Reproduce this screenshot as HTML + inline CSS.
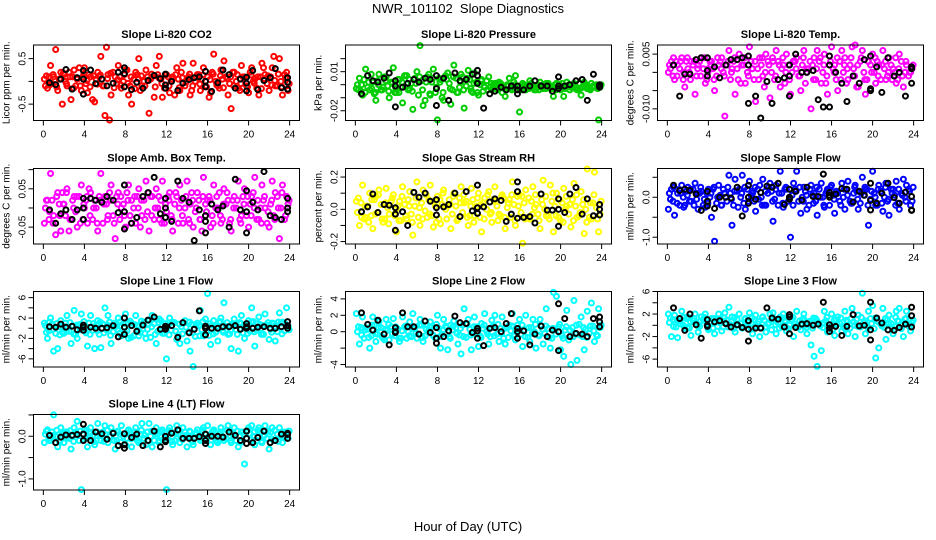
<!DOCTYPE html>
<html><head><meta charset="utf-8"><style>
html,body{margin:0;padding:0;background:#fff;}
svg{display:block;font-family:"Liberation Sans",sans-serif;}
</style></head><body>
<svg id="chart" width="936" height="540" viewBox="0 0 936 540" xmlns="http://www.w3.org/2000/svg">
<rect width="936" height="540" fill="#fff"/>
<text x="468" y="13" font-size="13" text-anchor="middle" xml:space="preserve">NWR_101102  Slope Diagnostics</text>
<text x="468" y="531" font-size="13" text-anchor="middle">Hour of Day (UTC)</text>
</svg>
<script>
const hrsA=[0.1,0.4,0.7,1.0,1.4,1.7,2.0,2.3,2.7,3.0,3.3,3.7,4.0,4.3,4.6,5.0,5.3,5.6,6.0,6.3,6.6,7.0,7.3,7.6,8.0,8.3,8.6,9.0,9.3,9.6,10.0,10.3,10.6,11.0,11.3,11.6,12.0,12.3,12.6,13.0,13.3,13.6,14.0,14.3,14.6,15.0,15.3,15.6,16.0,16.3,16.6,17.0,17.3,17.6,18.0,18.3,18.6,19.0,19.3,19.6,20.0,20.3,20.6,21.0,21.3,21.6,22.0,22.3,22.6,23.0,23.3,23.7];
const hrsB=[0.2,0.55,0.85,1.2,1.55,1.85,2.15,2.5,2.85,3.15,3.5,3.85,4.15,4.45,4.8,5.15,5.45,5.8,6.15,6.45,6.8,7.15,7.45,7.8,8.15,8.45,8.8,9.15,9.45,9.8,10.15,10.45,10.8,11.15,11.45,11.8,12.15,12.45,12.8,13.15,13.45,13.8,14.15,14.45,14.8,15.15,15.45,15.8,16.15,16.45,16.8,17.15,17.45,17.8,18.15,18.45,18.8,19.15,19.45,19.8,20.15,20.45,20.8,21.15,21.45,21.8,22.15,22.45,22.8,23.15,23.5,23.85];
const hrsC=[0.3,0.6,0.95,1.3,1.6,1.95,2.25,2.6,2.95,3.25,3.6,3.95,4.25,4.55,4.9,5.25,5.55,5.9,6.25,6.55,6.9,7.25,7.55,7.9,8.25,8.55,8.9,9.25,9.55,9.9,10.25,10.55,10.9,11.25,11.55,11.9,12.25,12.55,12.9,13.25,13.55,13.9,14.25,14.55,14.9,15.25,15.55,15.9,16.25,16.55,16.9,17.25,17.55,17.9,18.25,18.55,18.9,19.25,19.55,19.9,20.25,20.55,20.9,21.25,21.55,21.9,22.25,22.55,22.9,23.25,23.6,23.95];
const hrsK=[0.6,1.2,1.7,2.2,2.8,3.3,3.9,3.9,3.9,4.6,5.1,5.7,6.2,6.8,7.3,7.9,7.9,7.9,8.6,9.1,9.7,10.2,10.8,11.4,11.9,11.9,11.9,12.5,13.1,13.6,14.2,14.7,15.2,15.8,15.8,15.8,16.4,17.0,17.5,18.1,18.7,19.2,19.8,19.8,19.8,20.4,20.9,21.5,22.1,22.6,23.2,23.8,23.8,23.8];

const co2A=[0.05,-0.15,0.35,0.1,-0.2,0.2,0.15,-0.1,-0.4,0.25,0.05,-0.2,0.3,-0.25,0.1,-0.45,0.2,0.55,-0.75,0.15,-0.3,0.1,0.35,-0.15,0.25,-0.3,-0.5,0.2,0.5,-0.1,0.25,-0.7,0.1,0.35,0.55,-0.35,0.15,-0.25,0.1,0.3,-0.2,0.4,0.05,-0.3,0.4,0.15,-0.2,0.3,0.1,-0.25,0.6,-0.1,0.25,0.45,-0.3,-0.6,0.2,-0.15,0.35,0.1,-0.25,0.3,0.05,-0.3,0.4,0.15,-0.2,0.3,-0.1,0.5,-0.3,0.2];
const co2B=[-0.1,0.1,-0.05,0.7,0.05,-0.5,0.0,0.2,0.1,-0.1,0.3,0.1,-0.05,0.15,-0.4,0.05,0.1,-0.1,0.75,-0.85,0.2,-0.05,0.1,0.0,0.25,-0.1,0.05,0.15,-0.2,0.0,0.1,0.05,-0.35,0.15,0.05,-0.15,0.1,0.0,-0.3,0.05,0.2,-0.1,0.1,-0.2,0.0,0.15,0.05,-0.1,-0.35,0.2,0.0,-0.15,0.05,0.1,-0.05,0.2,0.0,-0.2,0.1,-0.1,0.2,0.0,-0.15,0.1,0.3,-0.05,0.1,0.55,-0.1,0.0,0.15,-0.2];
const co2C=[0.12,-0.08,0.15,-0.12,0.05,0.18,-0.05,0.1,-0.15,0.08,-0.1,0.16,0.02,-0.12,0.12,-0.06,0.14,-0.1,0.06,0.18,-0.14,0.04,-0.08,0.15,-0.04,0.1,-0.16,0.06,0.12,-0.1,0.02,0.16,-0.12,0.08,-0.05,0.14,-0.1,0.05,0.15,-0.14,0.08,-0.02,0.16,-0.1,0.1,-0.06,0.14,-0.12,0.04,0.16,-0.08,0.12,-0.14,0.06,0.1,-0.1,0.15,-0.05,0.08,-0.12,0.14,-0.04,0.1,-0.16,0.06,0.12,-0.08,0.02,0.16,-0.12,0.08,-0.05];
const co2K=[-0.03,-0.07,0.05,0.26,-0.17,0.08,0.05,-0.28,0.24,0.25,-0.05,0.05,-0.1,-0.04,0.2,0.3,-0.12,0.17,-0.18,-0.02,-0.15,0.02,0.13,0.06,0.16,-0.08,-0.15,0.0,-0.2,-0.04,0.04,0.08,0.1,0.22,0.0,-0.12,-0.22,-0.03,0.25,0.15,-0.15,0.05,0.09,-0.04,-0.21,0.24,-0.18,0.02,0.08,0.28,-0.14,0.08,-0.02,-0.17];

const presA=[-0.003,0.005,-0.008,0.012,-0.004,0.002,-0.012,0.008,-0.002,0.006,-0.01,0.013,-0.006,0.004,-0.014,0.007,-0.003,-0.019,0.01,0.03,-0.016,0.006,-0.008,0.012,-0.027,0.004,-0.012,0.009,-0.015,0.015,-0.006,0.008,-0.018,0.011,-0.005,0.009,-0.008,0.004,-0.002,0.006,-0.004,0.001,0.002,-0.006,-0.009,0.005,-0.003,0.007,-0.021,0.001,-0.004,0.003,-0.001,-0.004,0.002,-0.003,0.001,-0.003,-0.009,0.001,-0.004,-0.009,0.002,-0.002,0.001,-0.004,-0.008,0.002,-0.003,0.001,-0.002,-0.027];
const presB=[0.0,-0.005,0.004,-0.002,0.008,-0.007,0.003,-0.004,0.006,-0.001,0.002,-0.006,0.004,-0.002,0.007,-0.004,0.001,0.005,-0.008,0.003,-0.012,0.008,0.002,-0.006,0.005,-0.01,0.007,0.001,-0.004,0.005,-0.002,0.006,-0.001,0.004,-0.006,0.002,0.0,-0.005,0.003,-0.002,0.0,-0.003,0.001,-0.002,0.0,-0.003,0.002,-0.001,-0.003,0.0,-0.002,0.001,-0.004,0.0,-0.002,-0.001,0.001,-0.003,0.0,-0.002,0.001,-0.003,0.0,-0.001,-0.003,0.001,-0.002,0.0,-0.003,-0.001,0.0,-0.002];
const presC=[-0.004,0.0,-0.006,0.002,-0.003,-0.006,0.0,-0.004,0.003,-0.005,0.001,-0.003,-0.006,0.002,-0.002,0.004,-0.005,0.001,0.006,-0.004,0.002,-0.007,0.005,-0.002,0.002,-0.006,0.004,-0.003,0.006,-0.006,0.002,-0.004,0.005,-0.003,0.001,-0.006,0.003,-0.001,-0.004,0.001,-0.002,-0.004,0.0,-0.003,-0.001,-0.004,0.0,-0.002,-0.004,-0.001,-0.003,0.0,-0.002,-0.004,0.0,-0.003,-0.001,-0.002,-0.004,0.0,-0.002,-0.001,-0.004,0.0,-0.002,-0.003,0.0,-0.002,-0.004,-0.001,-0.003,0.0];
const presK=[-0.007,0.007,0.003,0.002,0.005,0.009,0.003,-0.017,-0.001,-0.002,0.001,0.004,0.002,0.005,0.004,0.007,-0.003,-0.016,0.005,-0.012,0.009,0.003,0.004,0.008,0.011,0.007,0.001,-0.018,-0.007,-0.005,-0.002,-0.004,-0.001,-0.001,-0.004,-0.007,-0.004,-0.001,0.003,-0.001,-0.001,-0.005,0.006,-0.001,-0.003,-0.001,0.0,0.003,0.004,-0.012,0.008,0.0,-0.002,-0.001];

const tempA=[0.0,0.003,-0.002,0.002,0.004,-0.004,0.001,0.003,-0.006,0.002,0.004,-0.003,0.001,0.003,-0.005,0.002,0.004,-0.012,0.006,0.001,-0.006,0.005,0.002,-0.003,0.007,0.001,-0.008,0.004,-0.001,0.005,-0.007,0.003,0.006,-0.004,0.002,0.005,-0.006,0.003,0.004,-0.005,0.006,0.001,-0.01,0.004,0.006,-0.003,0.005,-0.006,0.007,0.002,-0.005,0.006,0.004,-0.002,0.007,0.0075,-0.004,0.006,-0.006,0.003,0.005,-0.003,0.002,0.006,-0.002,0.004,0.001,-0.003,0.005,-0.004,0.002,0.0];
const tempB=[0.002,-0.001,0.003,0.001,-0.002,0.003,0.0,0.002,-0.001,0.003,0.001,-0.002,0.003,0.001,-0.001,0.003,0.0,0.002,-0.002,0.003,0.001,-0.003,0.002,0.0,0.003,-0.002,0.001,0.002,-0.004,0.003,0.0,-0.002,0.003,0.001,-0.003,0.002,0.0,0.003,-0.001,0.002,-0.003,0.001,0.002,-0.002,0.003,0.0,-0.003,0.002,0.001,-0.002,0.003,0.0,-0.003,0.002,0.001,-0.004,0.003,0.0,-0.002,0.002,0.0,0.003,-0.002,0.001,-0.001,0.002,0.0,-0.002,0.003,0.0,-0.001,0.001];
const tempC=[0.001,0.004,-0.001,0.003,0.0,0.004,-0.002,0.003,0.001,-0.001,0.004,0.0,0.002,-0.002,0.004,0.001,-0.001,0.003,0.0,0.004,-0.002,0.002,0.004,-0.001,0.001,0.003,-0.002,0.004,0.0,0.002,0.004,-0.001,0.002,0.004,0.0,-0.002,0.003,0.001,-0.001,0.004,0.0,0.003,-0.002,0.001,0.004,0.002,-0.001,0.003,0.0,0.004,-0.002,0.002,0.001,0.004,-0.001,0.002,0.004,-0.002,0.003,0.0,0.004,-0.001,0.002,0.003,0.0,-0.002,0.004,0.001,-0.001,0.003,0.0,0.002];
const tempK=[0.002,-0.0065,-0.0005,-0.0005,0.0035,0.004,0.004,-0.001,0.0005,0.0015,-0.0015,0.002,0.0035,0.0035,0.004,0.0045,0.002,-0.0085,-0.0065,-0.0125,-0.0025,-0.0085,-0.002,-0.0015,0.002,-0.001,-0.0065,0.005,0.0,0.0,0.0005,-0.0075,-0.0095,0.002,0.0045,-0.0095,0.0,-0.003,-0.008,-0.001,-0.003,0.0035,0.0045,-0.0045,-0.005,0.0015,-0.0055,0.004,-0.001,0.0,-0.0065,0.0015,-0.003,0.001];

const ambA=[-0.04,0.02,0.09,-0.02,0.04,-0.06,0.01,0.05,-0.03,0.03,-0.05,0.06,0.0,-0.04,0.04,0.02,-0.06,0.09,0.03,-0.02,0.06,-0.08,0.04,0.0,-0.05,0.06,0.02,-0.04,0.05,-0.02,0.07,-0.06,0.03,0.05,-0.03,0.07,-0.01,0.04,-0.06,0.03,0.06,-0.04,0.07,0.01,-0.05,0.04,-0.03,0.08,0.02,-0.05,0.06,0.0,-0.04,0.05,0.02,-0.06,0.03,0.07,-0.02,0.05,-0.05,0.03,0.08,-0.03,0.06,0.0,-0.05,0.07,0.04,-0.08,0.06,0.03];
const ambB=[0.0,-0.03,0.02,-0.07,0.01,0.04,-0.02,-0.06,0.02,-0.01,0.03,-0.03,0.02,0.05,-0.03,0.0,0.03,-0.04,0.01,0.04,-0.02,0.03,-0.03,0.01,0.04,-0.02,0.0,0.03,-0.05,0.02,-0.01,0.03,-0.03,0.0,0.02,-0.04,0.03,-0.02,0.01,-0.04,0.02,0.0,-0.03,0.04,-0.01,0.02,-0.06,0.01,0.03,-0.02,0.0,0.04,-0.03,0.01,-0.04,0.02,0.0,-0.03,0.03,-0.02,0.01,0.04,-0.03,0.0,0.02,-0.04,0.01,-0.02,0.03,0.0,-0.03,0.01];
const ambC=[0.02,-0.01,-0.04,0.03,-0.02,0.01,0.04,-0.03,0.0,0.03,-0.04,0.01,0.03,-0.02,0.0,-0.04,0.02,0.01,-0.03,0.02,-0.04,0.01,0.03,-0.02,0.02,-0.04,0.03,0.0,0.02,-0.03,0.04,-0.02,0.0,0.03,-0.04,0.01,0.02,-0.03,0.04,0.0,-0.02,0.03,-0.04,0.02,0.0,-0.03,0.03,-0.01,0.02,-0.04,0.03,-0.02,0.01,0.04,-0.03,0.0,0.02,-0.04,0.01,0.03,-0.02,0.0,0.02,-0.04,0.03,-0.01,0.02,-0.03,0.0,0.04,-0.02,0.02];
const ambK=[-0.005,-0.04,-0.015,-0.005,-0.03,-0.005,0.025,0.0,-0.03,0.025,0.02,0.015,0.03,0.02,-0.012,0.06,-0.01,-0.055,-0.04,-0.025,0.03,0.04,0.08,-0.015,0.025,0.0,-0.025,-0.035,0.07,0.025,0.015,-0.085,-0.005,-0.02,-0.035,-0.065,0.01,-0.005,0.005,-0.05,0.075,-0.005,0.045,-0.01,-0.065,0.015,-0.005,0.095,-0.02,-0.025,-0.03,0.025,0.0,-0.01];

const rhA=[0.05,-0.1,0.15,-0.05,0.1,-0.12,0.08,0.12,-0.08,0.13,-0.03,0.09,-0.14,0.05,0.14,-0.06,0.11,-0.16,0.17,-0.1,0.12,-0.05,0.15,-0.11,0.08,-0.09,0.12,0.02,-0.12,0.1,-0.06,0.14,0.04,-0.1,0.13,-0.04,0.1,-0.14,0.07,0.11,-0.08,0.14,-0.03,0.09,-0.12,0.06,0.17,-0.1,0.09,-0.21,0.12,-0.06,0.14,0.03,-0.12,0.18,-0.04,0.15,-0.14,0.1,-0.07,0.13,0.02,-0.11,0.16,-0.05,0.11,-0.15,0.25,-0.06,0.23,-0.14];
const rhB=[-0.02,0.04,-0.06,0.02,-0.04,0.06,-0.02,0.03,-0.06,0.01,0.05,-0.04,0.02,-0.07,0.03,0.06,-0.03,0.02,-0.05,0.04,-0.01,0.06,-0.04,0.02,-0.06,0.03,0.0,0.06,-0.03,0.02,0.07,-0.02,0.05,-0.04,0.06,0.02,-0.05,0.04,0.0,-0.03,0.06,0.02,-0.04,0.07,0.01,-0.05,0.03,0.08,-0.02,0.04,-0.05,0.05,0.01,-0.03,0.06,0.0,-0.04,0.05,0.02,-0.05,0.04,0.0,-0.03,0.06,0.02,-0.04,0.03,0.0,-0.05,0.04,0.01,-0.03];
const rhC=[0.07,-0.05,0.02,-0.08,0.06,-0.03,0.09,-0.06,0.04,-0.09,0.07,0.0,-0.07,0.08,-0.04,0.02,-0.08,0.07,0.01,-0.06,0.09,-0.03,0.05,-0.08,0.06,0.1,-0.06,0.03,0.08,-0.07,0.04,0.09,-0.05,0.02,-0.08,0.07,0.03,-0.06,0.09,-0.02,0.05,-0.07,0.08,-0.05,0.04,0.09,-0.07,0.02,0.08,-0.06,0.07,-0.03,0.09,-0.07,0.03,0.08,-0.06,0.1,-0.04,0.06,-0.08,0.08,0.03,-0.07,0.09,-0.02,0.06,-0.08,0.04,0.09,-0.06,0.05];
const rhK=[-0.015,0.015,0.095,-0.02,0.03,0.025,0.01,-0.03,-0.13,-0.015,-0.1,0.105,0.075,0.1,0.05,0.06,0.01,-0.035,0.015,0.03,0.1,-0.045,0.11,-0.01,0.15,0.01,-0.025,0.015,0.045,0.065,0.055,-0.075,-0.03,0.17,0.11,-0.055,-0.05,-0.045,-0.085,0.095,-0.005,-0.005,0.065,0.0,-0.105,-0.02,0.095,0.135,-0.03,0.065,-0.04,0.03,0.0,-0.035];

const sfA=[-0.3,0.2,-0.45,0.1,0.3,-0.2,0.25,-0.1,0.35,-0.3,0.15,-0.25,0.2,-0.5,-1.1,0.3,-0.2,0.1,0.55,-0.7,0.45,0.2,0.55,-0.3,0.4,0.1,-0.35,0.3,0.45,-0.2,0.35,-0.6,0.3,0.65,-0.25,0.2,-1.0,0.35,0.65,-0.4,0.25,-0.3,0.3,0.1,-0.45,0.35,-0.25,0.2,0.3,-0.4,0.1,0.35,-0.3,0.4,-0.15,0.3,-0.3,0.5,0.2,-0.7,0.65,-0.2,0.3,-0.35,0.35,-0.45,0.2,0.4,-0.3,0.45,0.3,-0.2];
const sfB=[0.1,-0.1,0.2,-0.2,0.0,0.15,-0.1,0.2,-0.05,0.1,-0.2,0.1,0.0,0.2,-0.15,0.05,0.2,-0.1,0.1,-0.2,0.15,0.0,-0.15,0.2,0.05,-0.1,0.2,0.0,-0.2,0.1,0.15,-0.05,-0.2,0.1,0.2,-0.1,0.05,0.2,-0.1,0.0,0.15,-0.2,0.05,-0.1,0.2,0.0,0.1,-0.2,0.05,0.15,-0.1,0.0,0.2,-0.1,0.1,0.15,-0.15,0.05,0.2,-0.05,0.1,-0.2,0.15,0.0,-0.1,0.2,0.05,-0.15,0.1,0.0,0.2,-0.1];
const sfC=[-0.05,0.25,-0.15,0.1,-0.25,0.05,0.2,-0.2,0.1,0.25,-0.05,-0.15,0.1,0.25,0.0,-0.2,0.1,0.25,-0.05,0.15,-0.25,0.1,0.25,-0.1,0.15,0.25,-0.05,-0.2,0.15,0.25,-0.1,0.2,0.1,-0.15,0.25,0.0,-0.2,0.15,0.25,-0.1,0.05,0.2,-0.15,0.25,0.0,-0.2,0.15,0.25,-0.05,0.1,-0.2,0.2,0.05,-0.15,0.25,-0.05,0.1,0.25,-0.2,0.15,0.0,0.2,-0.15,0.25,-0.05,0.1,-0.2,0.2,0.05,-0.1,0.15,0.25];
const sfK=[0.3,0.17,0.2,0.17,0.08,-0.33,0.15,-0.1,-0.22,-0.28,0.0,0.0,-0.02,0.25,-0.47,0.3,0.0,-0.15,-0.05,0.12,0.28,0.25,0.35,-0.18,0.2,0.0,-0.05,0.15,-0.07,0.25,0.02,0.02,0.58,0.12,0.05,0.0,0.08,0.22,0.2,-0.12,0.15,0.05,0.35,-0.08,-0.32,-0.15,0.1,0.35,-0.01,-0.15,0.13,0.02,-0.32,-0.33];

const l1A=[1,-2,2,-4.5,-4,1.5,-1,2.5,-3,3.5,-2,2.8,-0.5,-3.5,2.5,-4,1.5,-3.8,4,2.5,-3,0.5,2,-1.5,2.8,-2,1,2.5,-1.5,0.8,-2,1.5,2.5,-3,1.8,-1,-6,2,1.2,-2.2,-3,1,-2.5,-4.5,-7.5,1,3.5,-1.5,6.8,-3.2,1.5,-2.5,2,5,-1.2,-4,1.8,-4.5,2.5,-2,1.5,4,-3.5,2.2,-1,2.8,-2.2,1,-2.5,3,1.2,4];
const l1B=[0.5,-0.5,0.8,-1,0.3,-0.8,1,-0.6,0.5,-1.2,0.7,0,-0.9,1,-0.4,0.6,-1.2,0.8,-0.3,1.2,-0.7,0.4,-1,0.9,-0.5,1.4,-1.5,0.5,-0.8,1.2,-0.2,-1.8,0.9,-0.6,1.5,-1,0.6,-0.4,1.1,-1.3,0.3,1.5,-0.7,0.8,-1.6,0.5,-0.3,1.8,-1.4,0.6,-0.8,1.2,-0.5,0.4,-1.1,0.9,-0.3,1.1,-0.9,0.5,-0.6,1.3,-0.4,0.7,-1.2,0.6,-0.2,0.9,-0.7,1,-0.5,0.4];
const l1C=[-0.8,1.2,-0.2,0.9,-1.3,0.4,-0.6,1.1,-1.1,0.6,-0.3,1.3,0.2,-1.2,0.9,-0.5,1.2,-0.9,0.6,-1.4,1.0,-0.2,1.3,-0.7,1.1,-1.8,0.7,-0.4,1.4,-1.0,0.8,0.3,-1.2,1.1,-0.4,0.9,-1.3,1.2,-0.6,0.8,-1.1,0.2,1.2,-0.9,0.6,-1.5,1.3,-0.6,0.9,-1.1,0.4,1.3,-0.8,1.1,-0.4,0.7,-1.2,0.9,0.2,-1.0,1.2,-0.7,0.9,-1.2,0.5,1.1,-0.8,0.4,1.2,-1.1,0.8,-0.3];
const l1K=[0.3,0.2,0.8,0.2,0.4,-0.3,0.6,0.2,-0.4,0.2,0.0,0.0,0.1,0.5,-1.7,2.0,0.2,-1.2,0.5,-0.6,0.6,1.6,2.2,-0.2,0.4,0.0,-0.2,0.5,-1.8,1.1,-0.9,-0.2,3.4,0.4,0.0,-1.3,0.0,0.0,0.3,0.3,0.5,-0.2,0.9,0.3,0.0,0.0,0.2,0.3,0.0,0.0,0.3,1.3,0.5,0.0];

const l2A=[2.2,-1.5,1.8,0.5,-2,1.8,-1.2,1.2,-0.8,1.5,-1,1.6,0.5,-1.2,1.8,-0.8,1.2,2.2,-0.8,1.5,-1.2,0.8,1.2,-0.5,2,-2,1.5,-2.2,0.8,1.3,-1.5,-2.7,2.8,1.5,-2.2,1.8,-1.8,1,2.2,-1.5,1.4,2,-1.2,1.8,-1.5,0.8,2.2,-1,1.5,-1.8,2,-1.2,1.5,-2,1.5,-1.5,2.8,-2,4.8,4.3,-2.2,-3,2.6,-4,3.8,-3.5,1.8,-2.2,2.5,3.5,-1.2,2.8];
const l2B=[0,0.5,-0.8,0.3,-0.5,0.8,-0.3,0.5,-1,0.2,0.6,-0.5,0.3,-0.8,0.6,0,-0.6,0.5,-0.3,0.8,-0.5,0.2,0.6,-0.8,0.4,-0.3,0.7,-0.6,0.2,0.5,-0.4,0.8,-0.7,0.3,-0.2,0.6,-0.5,0.4,0,-0.6,0.7,-0.3,0.4,-0.8,0.5,0.1,-0.5,0.8,-0.3,0.2,-0.7,0.5,0,-0.4,0.7,-0.2,0.4,-0.8,0.3,0.6,-0.5,0.2,-1,0.5,-0.3,0.9,-0.6,0.3,-0.2,0.7,-0.4,0.5];
const l2C=[0.6,-0.4,0.2,-0.7,0.8,-0.2,0.5,-0.6,0.3,0.9,-0.3,0.6,-0.8,0.1,0.7,-0.5,0.4,-0.2,0.8,-0.7,0.3,0.6,-0.4,0.9,-0.6,0.2,0.5,-0.8,0.7,-0.2,0.4,-0.6,0.9,-0.4,0.6,0.0,-0.7,0.8,-0.3,0.5,-0.5,0.9,-0.2,0.4,-0.7,0.7,-0.4,0.3,0.8,-0.6,0.5,-0.2,0.9,-0.5,0.3,0.7,-0.7,0.4,-0.3,0.9,-0.8,0.6,0.2,-0.6,0.8,-0.4,0.5,-0.7,0.7,0.1,-0.5,0.8];
const l2K=[2.3,0.9,0.2,1.4,-0.3,-1.6,0.5,0.0,-0.1,2.3,0.6,0.6,-0.3,1.3,-0.1,0.5,-0.8,-1.4,-0.6,0.1,1.9,1.1,1.0,-0.1,0.4,0.1,-0.8,-1.7,0.4,0.5,0.0,1.0,2.2,0.4,0.0,-0.8,0.1,-1.6,-0.3,0.7,-0.6,0.2,3.4,0.0,-2.3,1.6,-0.6,-0.2,-0.3,-0.6,1.6,1.8,1.2,0.6];

const l3A=[2,-2,1.8,-2.2,2.5,-0.5,1.5,-1.8,2,-1.2,1.5,2,-0.8,1.2,-1.5,2,-1,2.2,3.2,1.5,-1.2,2,-0.5,1.2,2.2,-1.5,1.8,-2,1.5,-1.2,2,2.2,-1.5,1.5,2,-1,1.5,-2,2.5,-0.8,2,-1.5,-3.5,-5.5,-7.3,-4.5,2.5,-1.2,2,-1.8,1.5,-1,2.5,-1.5,3,-2,1.8,5.7,-1.5,2.5,3.5,-5.8,-4,3,-2.5,1.8,-1.5,2.5,3,-2,2.5,-1];
const l3B=[0.5,1,-0.3,0.8,0,1.2,-0.5,0.8,0.3,-0.2,1,0.2,0.6,-0.5,1,0.4,-0.3,0.9,0.1,-0.6,1.1,0.3,-0.2,0.8,-0.5,1,0.3,-0.4,0.9,0.2,-0.8,1.1,0.4,-0.2,0.8,-0.6,1,0.2,-0.3,0.9,0,0.7,-0.5,1.2,0.3,-0.4,0.8,0.1,-0.7,1,0.3,-0.2,0.9,-0.5,0.6,1.1,-0.3,0.5,0,1.2,-0.6,0.8,0.2,-0.4,1,0.3,-0.2,0.8,-0.6,1.1,0.2,0.5];
const l3C=[1.3,-0.2,0.9,0.3,1.4,-0.4,0.6,1.2,-0.1,0.8,1.4,-0.5,0.3,1.2,-0.2,0.9,1.3,-0.3,0.6,1.4,0.0,-0.4,1.1,0.5,1.3,-0.1,0.7,1.4,-0.3,0.4,1.2,0.1,-0.5,1.3,0.6,0.0,1.4,-0.2,0.8,1.2,-0.4,0.3,1.3,0.9,-0.1,0.5,1.4,-0.3,0.9,0.2,1.3,-0.5,0.6,1.2,0.0,-0.2,1.4,0.8,-0.4,0.3,1.3,0.6,-0.1,1.2,0.4,-0.4,1.4,0.7,0.0,1.2,-0.3,0.9];
const l3K=[3.1,1.2,-0.9,2,0.1,-2.3,1.0,0.0,-0.2,0.6,0.8,0.3,-0.3,0.1,-0.4,0.8,-0.7,-2.8,-0.5,-0.5,3.1,1.3,1.1,-0.3,1.9,1.5,-1.5,-0.4,0.2,0.3,0.0,0.2,4.1,0.1,-0.5,-1.1,-0.2,-1.8,-0.2,1.9,-0.1,0.0,4.1,-0.8,-2.6,1.3,0.4,-0.8,-0.9,-0.4,0.2,3.2,1.7,-0.3];

const l4A=[-0.15,0.15,-0.1,0.5,-0.25,0.2,-0.15,0.1,-0.3,0.2,0.35,-1.25,0.15,-0.25,0.2,-0.2,0.3,-0.1,0.25,-0.15,0.2,-0.3,0.1,0.25,-0.2,0.15,-0.25,0.2,-0.15,0.3,-0.2,0.3,-0.25,0.2,-0.1,0.15,-1.25,0.2,-0.2,0.25,-0.15,0.2,-0.25,0.1,-0.2,0.15,-0.1,0.2,0.25,-0.2,0.15,-0.15,0.2,-0.1,0.25,-0.15,0.2,-0.25,0.1,-0.65,0.2,0.25,-0.2,0.2,-0.15,0.25,-0.3,0.2,-0.1,0.2,-0.15,0.1];
const l4B=[0.05,-0.05,0.1,0.0,-0.1,0.05,0.1,-0.05,0.0,0.1,-0.1,0.05,-0.05,0.1,0.0,-0.1,0.05,0.1,-0.05,0.0,0.1,-0.1,0.05,0.0,-0.05,0.1,0.0,-0.1,0.05,-0.05,0.1,0.0,-0.1,0.05,0.1,-0.05,0.0,0.1,-0.1,0.05,-0.05,0.1,0.0,-0.1,0.05,0.0,0.1,-0.05,0.0,0.1,-0.1,0.05,0.0,-0.05,0.1,0.05,-0.1,0.0,0.1,-0.05,0.05,0.0,-0.1,0.1,0.0,-0.05,0.1,-0.1,0.05,0.0,0.1,-0.05];
const l4C=[0.12,-0.1,0.02,0.14,-0.13,0.08,-0.04,0.13,-0.12,0.06,0.12,-0.08,0.14,-0.02,-0.13,0.1,0.03,-0.12,0.14,0.0,-0.1,0.12,-0.14,0.06,0.13,-0.06,0.1,-0.13,0.14,0.02,-0.11,0.12,0.05,-0.14,0.1,-0.03,0.13,-0.12,0.06,0.14,-0.08,0.02,0.12,-0.13,0.09,-0.05,0.14,-0.1,0.03,0.13,-0.12,0.1,-0.04,0.14,-0.1,0.06,0.12,-0.14,0.04,0.13,-0.08,0.1,0.14,-0.12,0.02,0.12,-0.06,0.14,-0.12,0.08,-0.02,0.12];
const l4K=[0.02,-0.15,-0.02,0.03,0.02,0.04,0.28,0.05,-0.1,-0.1,0.1,0.06,-0.07,0.07,-0.22,0.06,-0.2,-0.28,-0.03,0.05,-0.22,-0.1,0.12,-0.25,0.0,-0.1,-0.13,0.07,0.15,-0.05,-0.05,-0.05,-0.01,0.05,-0.1,-0.17,0.0,0.0,-0.02,0.1,0.02,-0.1,0.12,-0.05,-0.17,-0.15,-0.03,0.12,-0.15,-0.1,0.05,0.07,0.04,-0.05];

const xTicks=[0,4,8,12,16,20,24];

const panels=[
 {name:"co2",title:"Slope Li-820 CO2",ylab:"Licor ppm per min.",col:"#ff0000",r:0,c:0,ylim:[-0.86,0.8],yt:[0.5,0,-0.5],yl:["0.5","","-0.5"],a:co2A,b:co2B,cc:co2C,k:co2K},
 {name:"pressure",title:"Slope Li-820 Pressure",ylab:"kPa per min.",col:"#00cd00",r:0,c:1,ylim:[-0.0275,0.0305],yt:[0.02,0.01,0,-0.01,-0.02],yl:["","0.01","","","-0.02"],a:presA,b:presB,cc:presC,k:presK},
 {name:"li820-temp",title:"Slope Li-820 Temp.",ylab:"degrees C per min.",col:"#ff00ff",r:0,c:2,ylim:[-0.0132,0.0075],yt:[0.005,0,-0.005,-0.01],yl:["0.005","","","-0.010"],a:tempA,b:tempB,cc:tempC,k:tempK},
 {name:"amb-box-temp",title:"Slope Amb. Box Temp.",ylab:"degrees C per min.",col:"#ff00ff",r:1,c:0,ylim:[-0.094,0.103],yt:[0.1,0.05,0,-0.05],yl:["","0.05","","-0.05"],a:ambA,b:ambB,cc:ambC,k:ambK},
 {name:"gas-stream-rh",title:"Slope Gas Stream RH",ylab:"percent per min.",col:"#ffff00",r:1,c:1,ylim:[-0.215,0.253],yt:[0.2,0.1,0,-0.1,-0.2],yl:["0.2","","0.0","","-0.2"],a:rhA,b:rhB,cc:rhC,k:rhK},
 {name:"sample-flow",title:"Slope Sample Flow",ylab:"ml/min per min.",col:"#0000ff",r:1,c:2,ylim:[-1.17,0.72],yt:[0.5,0,-0.5,-1],yl:["","0.0","","-1.0"],a:sfA,b:sfB,cc:sfC,k:sfK},
 {name:"line1-flow",title:"Slope Line 1 Flow",ylab:"ml/min per min.",col:"#00ffff",r:2,c:0,ylim:[-7.6,7.2],yt:[6,4,2,0,-2,-4,-6],yl:["6","","2","","-2","","-6"],a:l1A,b:l1B,cc:l1C,k:l1K},
 {name:"line2-flow",title:"Slope Line 2 Flow",ylab:"ml/min per min.",col:"#00ffff",r:2,c:1,ylim:[-4.3,4.9],yt:[4,2,0,-2,-4],yl:["4","2","0","","-4"],a:l2A,b:l2B,cc:l2C,k:l2K},
 {name:"line3-flow",title:"Slope Line 3 Flow",ylab:"ml/min per min.",col:"#00ffff",r:2,c:2,ylim:[-7.4,6.0],yt:[6,4,2,0,-2,-4,-6],yl:["6","","2","","-2","","-6"],a:l3A,b:l3B,cc:l3C,k:l3K},
 {name:"line4-flow",title:"Slope Line 4 (LT) Flow",ylab:"ml/min per min.",col:"#00ffff",r:3,c:0,ylim:[-1.26,0.51],yt:[0.5,0,-0.5,-1],yl:["","0.0","","-1.0"],a:l4A,b:l4B,cc:l4C,k:l4K}
];

const NS="http://www.w3.org/2000/svg";
const svg=document.getElementById('chart');
function mk(tag,attrs,parent){const e=document.createElementNS(NS,tag);for(const k in attrs)e.setAttribute(k,attrs[k]);parent.appendChild(e);return e;}
const colLeft=[33.5,345.5,657.5],rowTop=[45,168.5,291.5,414.5],W=266,H=75.5;

panels.forEach(p=>{
  const L=colLeft[p.c],T=rowTop[p.r],B=T+H;
  const xs=h=>L+(h+0.96)/25.92*W;
  const ys=v=>B-(v-p.ylim[0])/(p.ylim[1]-p.ylim[0])*H;
  const g=mk('g',{},svg);
  
  
  const t=mk('text',{x:L+W/2,y:T-7,'font-size':11,'font-weight':'bold','text-anchor':'middle'},g);
  t.textContent=p.title;
  
  
  const yl=mk('text',{x:0,y:0,'font-size':10,'text-anchor':'middle',transform:`translate(${L-24},${T+H/2}) rotate(-90)`},g);
  yl.textContent=p.ylab;
  
  
  const pts=mk('g',{fill:'none','stroke-width':2},g);
  
  
  [[hrsA,p.a],[hrsB,p.b],[hrsC,p.cc]].forEach(([hs,vs])=>{
    vs.forEach((v,i)=>{
      const c=mk('circle',{cx:xs(hs[i]),cy:ys(v),r:2.5,stroke:p.col},pts);
      
      
    });
  });
  const kp=mk('g',{fill:'none','stroke-width':2},g);
  
  
  p.k.forEach((v,i)=>{
    const c=mk('circle',{cx:xs(hrsK[i]),cy:ys(v),r:2.5,stroke:'#000'},kp);
    
    
  });
  const box=mk('rect',{x:L,y:T,width:W,height:H,fill:'none',stroke:'#000','stroke-width':1},g);
  
  
  const xa=mk('g',{},g);
  
  
  mk('line',{x1:xs(0),x2:xs(24),y1:B,y2:B,stroke:'#000'},xa);
  xTicks.forEach(h=>{
    mk('line',{x1:xs(h),x2:xs(h),y1:B,y2:B+5,stroke:'#000'},xa);
    const tl=mk('text',{x:xs(h),y:B+17,'font-size':10,'text-anchor':'middle'},xa);
    tl.textContent=h;
  });
  const ya=mk('g',{},g);
  
  
  p.yt.forEach((v,i)=>{
    mk('line',{x1:L-5,x2:L,y1:ys(v),y2:ys(v),stroke:'#000'},ya);
    if(p.yl[i]){const tl=mk('text',{x:0,y:0,'font-size':10,'text-anchor':'middle',transform:`translate(${L-8},${ys(v)}) rotate(-90)`},ya);tl.textContent=p.yl[i];}
  });
});
</script>
</body></html>
